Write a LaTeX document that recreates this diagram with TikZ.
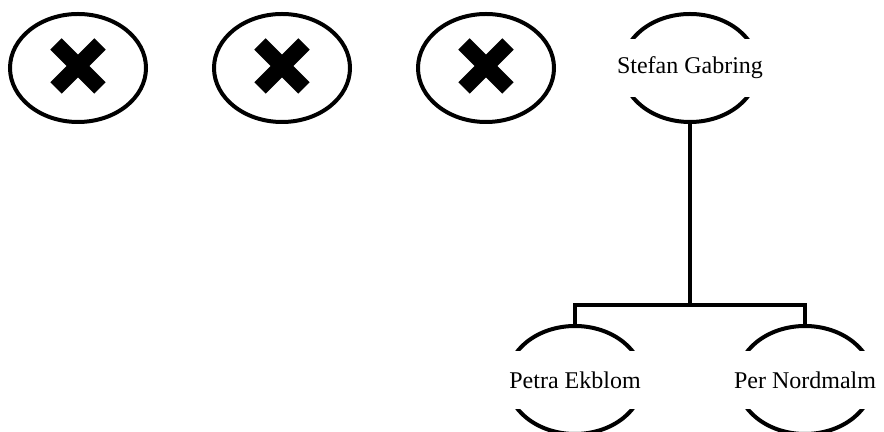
\documentclass[tikz,border=0pt]{standalone}
\usepackage{fontspec}
\setmainfont{Liberation Serif}
\usetikzlibrary{shapes.geometric,positioning}

\begin{document}
\begin{tikzpicture}[x=0.5pt, y=-0.5pt, node distance=102pt]
    \tikzstyle{person} = [ellipse, draw, line width=2pt, inner sep=0pt,
    minimum width=68pt, minimum height=54pt]
    \tikzstyle{namebox} = [fill=white, inner sep=0pt, minimum width=76pt,
    minimum height=29pt, font=\fontsize{12}{14}\selectfont]
    \tikzstyle{cross} = [line width=8pt, line cap=butt]
    \tikzstyle{tree} = [line width=2pt]

    \useasboundingbox (0,0) rectangle (884,432);

    \node [person] (gone1) at (78,68) {};
    \node [person, right of=gone1] (gone2) {};
    \node [person, right of=gone2] (gone3) {};
    \node [person, right of=gone3] (stefan) {};
    \node [person] (petra) at (575,380) {};
    \node [person] (per) at (805,380) {};

    \foreach \n in {gone1,gone2,gone3}
        \draw [cross] (\n.center) +(-22,-24) -- +(22,20) +(-22,20) -- +(22,-24);

    \coordinate (fork) at (690,305);
    \draw [tree] (stefan.south) -- (fork) -| (petra.north);
    \draw [tree] (fork) -| (per.north);

    \node [namebox] (stefanname) at (stefan) {Stefan Gabring};
    \node [namebox] (petraname) at (petra) {Petra Ekblom};
    \node [namebox] (pername) at (per) {Per Nordmalm};
\end{tikzpicture}
\end{document}
